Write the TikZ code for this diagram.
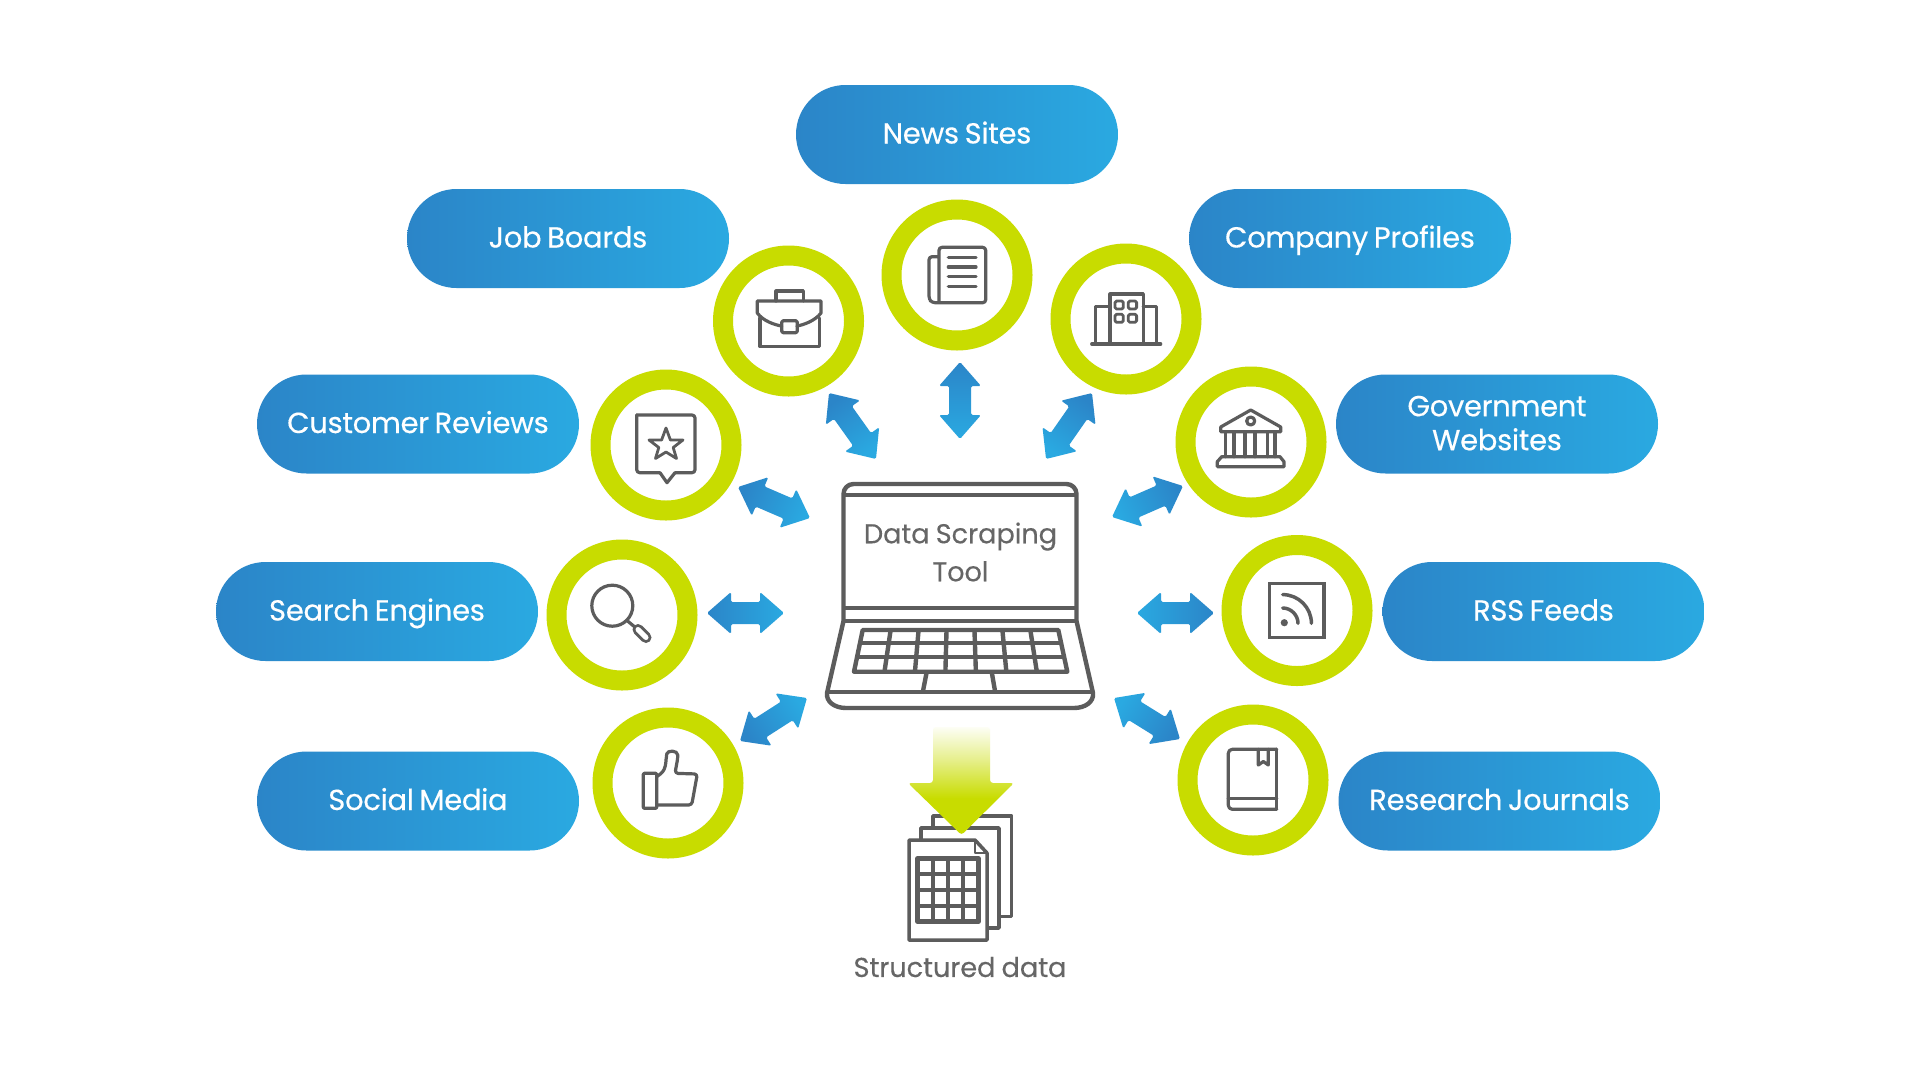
\documentclass[tikz,border=0pt]{standalone}
\usepackage{fontspec}
\setmainfont{Poppins}
\newfontfamily\pillfont[FakeBold=0.35,LetterSpace=-1,WordSpace=0.75]{Poppins}
\newfontfamily\capfont[FakeBold=0.2,LetterSpace=-0.5,WordSpace=0.85]{Poppins}
\usetikzlibrary{shapes.misc,calc}
\definecolor{ringgreen}{HTML}{C8DC00}
\definecolor{bluedark}{HTML}{2B85C8}
\definecolor{bluelight}{HTML}{2AA9E1}
\definecolor{icongray}{HTML}{5C5C5C}
\definecolor{textgray}{HTML}{666666}
\pgfdeclareverticalshading{greenfade}{100bp}{color(0bp)=(ringgreen); color(25bp)=(ringgreen); color(42bp)=(ringgreen); color(60bp)=(ringgreen!45!white); color(75bp)=(ringgreen!4!white); color(100bp)=(white)}
\tikzset{
  pill/.style={rounded rectangle, minimum width=322pt, minimum height=99pt, inner sep=0pt,
    left color=bluedark, right color=bluelight, text=white, align=center,
    font=\pillfont\fontsize{29}{34}\selectfont},
  oneline/.style={text height=25pt, text depth=7pt},
  ring/.style={circle, draw=ringgreen, line width=20pt, minimum size=131pt, inner sep=0pt, outer sep=0pt, fill=white},
  icon/.style={draw=icongray, line width=3.2pt, line join=round, line cap=round},
  laptopline/.style={draw=icongray, line width=4.4pt, line join=round},
  caption/.style={text=textgray, align=center, inner sep=0pt, font=\capfont\fontsize{27.3}{38}\selectfont},
}
\newcommand{\linkarrow}[2]{%
  \pgfmathanglebetweenpoints{\pgfpointanchor{#1}{center}}{\pgfpointanchor{#2}{center}}%
  \let\aang\pgfmathresult
  \pgfmathsetmacro{\shang}{\aang+90}%
  \pgfpointdiff{\pgfpointanchor{#1}{center}}{\pgfpointanchor{#2}{center}}%
  \pgfgetlastxy{\dxx}{\dyy}%
  \pgfmathsetmacro{\alen}{veclen(\dxx,\dyy)}%
  \begin{scope}[shift={(#1)},rotate=\aang]
    \shade[left color=bluedark, right color=bluelight, shading angle=\shang, rounded corners=1.5pt]
      (0,0) -- (24,-21) -- (24,-11) -- ({\alen-24},-11) -- ({\alen-24},-21) -- (\alen,0)
      -- ({\alen-24},21) -- ({\alen-24},11) -- (24,11) -- (24,21) -- cycle;
  \end{scope}}
\begin{document}
\begin{tikzpicture}[x=1pt,y=-1pt]
\useasboundingbox (0,0) rectangle (1920,1080);
\fill[white] (0,0) rectangle (1920,1080);

% pills
\node[pill,oneline] (pnews) at (957,134.5) {News Sites};
\node[pill,oneline] (pjob) at (568,238.5) {Job Boards};
\node[pill,oneline] (pcompany) at (1350,238.5) {Company Profiles};
\node[pill,oneline] (preview) at (418,424) {Customer Reviews};
\node[pill] (pgov) at (1497,424) {Government\\Websites\rule[-2pt]{0pt}{2pt}};
\node[pill,oneline] (psearch) at (377,611.5) {Search Engines};
\node[pill,oneline] (prss) at (1543.5,611.5) {RSS Feeds};
\node[pill,oneline] (psocial) at (418,801) {Social Media};
\node[pill,oneline] (presearch) at (1499.5,801) {Research Journals};

% rings
\node[ring] (rnews) at (957,275) {};
\node[ring] (rjob) at (788.5,321) {};
\node[ring] (rcompany) at (1126,319) {};
\node[ring] (rreview) at (666,445) {};
\node[ring] (rgov) at (1251,442) {};
\node[ring] (rsearch) at (622,615) {};
\node[ring] (rrss) at (1297,610.5) {};
\node[ring] (rsocial) at (668,783) {};
\node[ring] (rresearch) at (1253,780) {};

% arrow ends
\coordinate (a1) at (960,362);   \coordinate (b1) at (960,439);
\coordinate (a2) at (829,393);   \coordinate (b2) at (876,459);
\coordinate (a3) at (1092,393);  \coordinate (b3) at (1046,459);
\coordinate (a4) at (738,487);   \coordinate (b4) at (810,518);
\coordinate (a5) at (1183,486);  \coordinate (b5) at (1112,517);
\coordinate (a6) at (707,613);   \coordinate (b6) at (784,613);
\coordinate (a7) at (1214,613);  \coordinate (b7) at (1137,613);
\coordinate (a8) at (740,741);   \coordinate (b8) at (807,698);
\coordinate (a9) at (1180,739);  \coordinate (b9) at (1114,698);
\linkarrow{a1}{b1}\linkarrow{a2}{b2}\linkarrow{a3}{b3}
\linkarrow{a4}{b4}\linkarrow{a5}{b5}\linkarrow{a6}{b6}
\linkarrow{a7}{b7}\linkarrow{a8}{b8}\linkarrow{a9}{b9}

% laptop
\draw[laptopline,rounded corners=10pt] (843.5,622) -- (843.5,484) -- (1076.5,484) -- (1076.5,622);
\draw[laptopline] (843.5,495) -- (1076.5,495);
\draw[laptopline] (843.5,608) -- (1076.5,608);
\draw[laptopline] (843.5,621) -- (1076.5,621);
\draw[laptopline] (843.5,621) -- (827,693) .. controls (826,702) and (835,708) .. (846,708)
  -- (1074,708) .. controls (1085,708) and (1094,702) .. (1093,693) -- (1076.5,621);
\draw[laptopline] (827,692) -- (1093,692);
\draw[laptopline] (862.7,630) -- (1058.3,630) -- (1067.3,671.7) -- (854,671.7) -- cycle;
\draw[laptopline] (860,642.7) -- (1061,642.7);
\draw[laptopline] (857,656.7) -- (1064,656.7);
\foreach \i in {1,...,6}
  \draw[laptopline] ({862.7+\i*27.94},630) -- ({854+\i*30.47},671.7);
\draw[laptopline] (926.7,672) -- (923,691);
\draw[laptopline] (991.7,672) -- (995,691);
\node[caption] (tool) at (960.5,552) {Data Scraping\\Tool};

% documents
\draw[icon,line width=3.5pt,fill=white] (933,828) -- (933,816) -- (1011.7,816) -- (1011.7,916.7) -- (999,916.7);
\draw[icon,line width=3.5pt,fill=white] (921,840) -- (921,828) -- (999,828) -- (999,928) -- (987,928);
\draw[icon,line width=3.5pt,fill=white] (909,840) -- (975,840) -- (987,853) -- (987,940) -- (909,940) -- cycle;
\draw[icon,line width=2.5pt] (975,840) -- (975,853) -- (987,853);
\draw[icon,line width=4.5pt] (917.7,858.3) rectangle (978.3,921.7);
\foreach \i in {1,2,3} {
  \draw[icon,line width=4.5pt] ({917.7+\i*15.15},858.3) -- ({917.7+\i*15.15},921.7);
  \draw[icon,line width=4.5pt] (917.7,{858.3+\i*15.85}) -- (978.3,{858.3+\i*15.85});
}
\node[caption] (structured) at (960,967) {Structured data};
\shade[shading=greenfade, rounded corners=3pt]
  (933,727) -- (990,727) -- (990,783) -- (1014,783) -- (961.5,835) -- (908,783) -- (933,783) -- cycle;

% briefcase
\draw[icon] (781.7,326) .. controls (775,325) and (763,321) .. (757.3,313) -- (757.3,301) -- (821,301) -- (821,313) .. controls (815,321) and (803,325) .. (797,326);
\draw[icon] (760,318) -- (760,346.7) -- (819.3,346.7) -- (819.3,318);
\draw[icon] (776,301) -- (776,291) -- (803.3,291) -- (803.3,301);
\draw[icon,rounded corners=1.5pt] (781.7,320.7) rectangle (797.3,332.7);

% newspaper
\draw[icon,rounded corners=3pt] (939,302.7) -- (939,247.3) -- (985.7,247.3) -- (985.7,302.7) -- (932,302.7) -- (929,299) -- (929,256.7) -- (939,256.7);
\foreach \y in {257.3,267,276.7,286.3}
  \draw[icon] (948.3,\y) -- (976,\y);

% building
\draw[icon] (1091.7,344) -- (1160.7,344);
\draw[icon] (1110,344) -- (1110,294) -- (1143.3,294) -- (1143.3,344);
\draw[icon] (1110,306.7) -- (1095.7,306.7) -- (1095.7,344);
\draw[icon] (1143.3,306.7) -- (1156.7,306.7) -- (1156.7,344);
\foreach \xa in {1115,1128.3} \foreach \ya in {301,314.3}
  \draw[icon,line width=2.8pt,rounded corners=1.5pt] (\xa,\ya) rectangle ({\xa+8.3},{\ya+8});

% review
\draw[icon,rounded corners=3pt] (636.7,415) -- (695,415) -- (695,472.7) -- (675,472.7);
\draw[icon,rounded corners=3pt] (636.7,415) -- (636.7,472.7) -- (660,472.7);
\draw[icon] (660,472.7) -- (667,482.7) -- (675,472.7);
\draw[icon,line width=2.8pt] (666,428) -- (670.4,440) -- (683,440) -- (673.2,447.5) -- (676.5,458.5)
  -- (666,452) -- (655.5,458.5) -- (658.8,447.5) -- (649,440) -- (661.6,440) -- cycle;

% magnifier
\draw[icon] (612.3,605.7) circle[radius=20.5pt];
\draw[icon] (627,620.5) -- (636,628);
\draw[icon,line width=11pt] (638,629.5) -- (646,637.5);
\draw[white,line width=5pt,line cap=round] (638,629.5) -- (646,637.5);

% thumb
\draw[icon,rounded corners=1pt] (643.3,773.3) rectangle (656.7,808.3);
\draw[icon,rounded corners=3pt] (656.7,776.7) -- (663,772) .. controls (666,765) and (666,760) .. (666.5,757)
  .. controls (667,750) and (678,750) .. (677.7,758.3) -- (675,773.3) -- (697.3,774) -- (691.7,805) -- (657,805);

% bank
\draw[icon] (1250.7,410) -- (1280.7,427) -- (1280.7,431.7) -- (1220.7,431.7) -- (1220.7,427) -- cycle;
\draw[icon] (1250.7,421) circle[radius=4pt];
\foreach \xa in {1225.7,1234,1245,1255,1267.3,1275}
  \draw[icon] (\xa,431.7) -- (\xa,456.7);
\draw[icon] (1221.7,456.7) -- (1280,456.7) -- (1284,461.7) -- (1284,466.7) -- (1217.3,466.7) -- (1217.3,461.7) -- cycle;

% rss
\draw[icon,line width=3.5pt,line join=miter] (1269.3,583.3) rectangle (1324,637.3);
\fill[icongray] (1284.3,622.7) circle[radius=3.6pt];
\draw[icon,line width=3.5pt] (1282.7,608) .. controls (1291,608) and (1298,615) .. (1298,623.3);
\draw[icon,line width=3.5pt] (1282.7,594.6) .. controls (1298.5,594.6) and (1311.4,607.5) .. (1311.4,623.3);

% book
\draw[icon,rounded corners=4pt] (1276.7,749.3) -- (1228.3,749.3) -- (1228.3,809.3) -- (1276.7,809.3);
\draw[icon] (1276.7,749.3) -- (1276.7,809.3);
\draw[icon,rounded corners=3pt] (1276.7,798.3) -- (1228.3,798.3);
\draw[icon] (1258.3,749.3) -- (1258.3,765) -- (1263.3,761.5) -- (1268.3,765) -- (1268.3,749.3);
\end{tikzpicture}
\end{document}
